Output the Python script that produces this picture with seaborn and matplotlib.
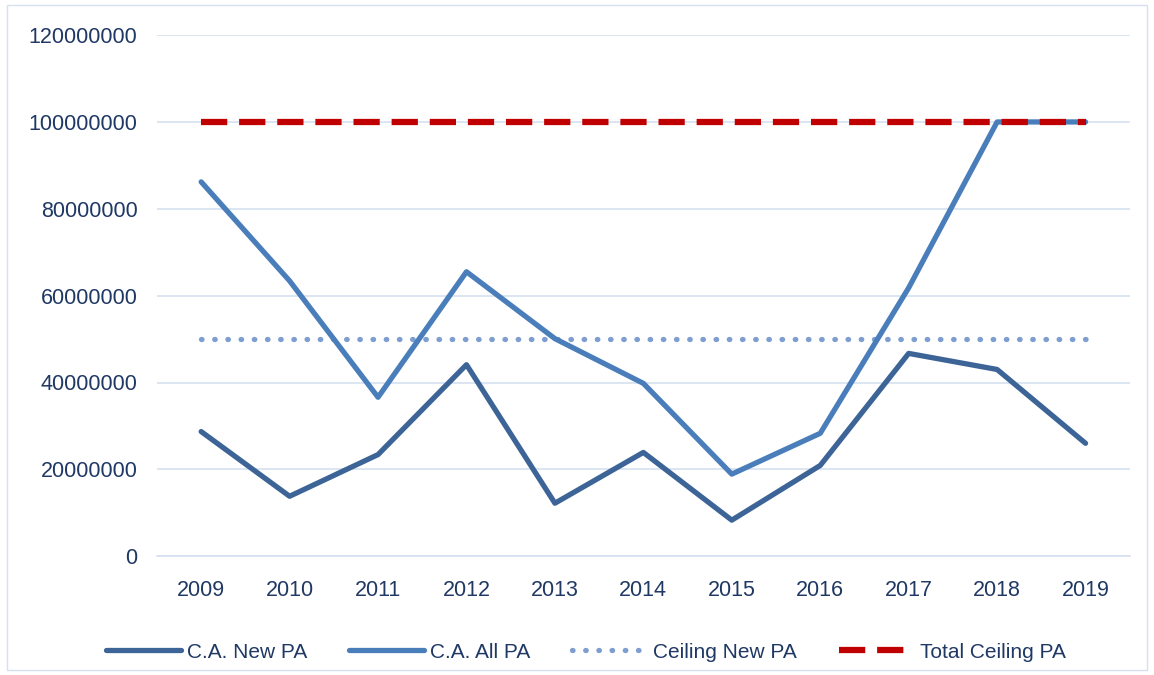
import numpy as np
import pandas as pd
import matplotlib
matplotlib.use("Agg")
import matplotlib.pyplot as plt
import seaborn as sns
from matplotlib.ticker import FuncFormatter, MultipleLocator

# data
years = [2009, 2010, 2011, 2012, 2013, 2014, 2015, 2016, 2017, 2018, 2019]
ca_new_pa = [28.7e6, 13.8e6, 23.4e6, 44.1e6, 12.2e6, 23.9e6, 8.3e6, 20.9e6, 46.7e6, 43.0e6, 26.0e6]
ca_all_pa = [86.2e6, 63.4e6, 36.6e6, 65.5e6, 50.1e6, 39.8e6, 18.9e6, 28.3e6, 61.8e6, 100.0e6, 100.0e6]
ceiling_new_pa = [50e6] * 11
total_ceiling_pa = [100e6] * 11

df = pd.DataFrame({
    "Year": years,
    "C.A. New PA": ca_new_pa,
    "C.A. All PA": ca_all_pa,
    "Ceiling New PA": ceiling_new_pa,
    "Total Ceiling PA": total_ceiling_pa,
})

sns.set_style("white")
plt.rcParams["font.family"] = ["Liberation Sans", "DejaVu Sans"]

text_col = "#1F3864"
grid_col = "#D6E0F0"

fig = plt.figure(figsize=(11.54, 6.75), dpi=100)
ax = fig.add_axes([0.136, 0.176, 0.843, 0.772])

sns.lineplot(data=df, x="Year", y="C.A. New PA", ax=ax, color="#3D6497",
             linewidth=3.8, label="C.A. New PA", zorder=3)
sns.lineplot(data=df, x="Year", y="C.A. All PA", ax=ax, color="#4A7EBB",
             linewidth=3.8, label="C.A. All PA", zorder=3)
sns.lineplot(data=df, x="Year", y="Ceiling New PA", ax=ax, color="#7F9ED0",
             linewidth=3.8, linestyle=(0, (0.1, 2.4)), dash_capstyle="round",
             label="Ceiling New PA", zorder=2)
sns.lineplot(data=df, x="Year", y="Total Ceiling PA", ax=ax, color="#C00000",
             linewidth=4.5, linestyle=(0, (4.2, 1.9)), label="Total Ceiling PA", zorder=4)

ax.set_xlim(2008.5, 2019.5)
ax.set_ylim(0, 120e6)
ax.yaxis.set_major_locator(MultipleLocator(20e6))
ax.yaxis.set_major_formatter(FuncFormatter(lambda v, p: f"{int(round(v))}"))
ax.set_xticks(years)
ax.set_xticks(np.arange(2008.5, 2020, 1), minor=True)
ax.tick_params(axis="x", which="major", length=0, pad=17, labelsize=15.5, labelcolor=text_col)
ax.tick_params(axis="x", which="minor", length=8, width=1, color=grid_col, direction="out")
ax.tick_params(axis="y", length=0, pad=14, labelsize=15.5, labelcolor=text_col)

ax.grid(axis="y", color=grid_col, linewidth=1.2)
for s in ["top", "right", "left"]:
    ax.spines[s].set_visible(False)
ax.spines["bottom"].set_color(grid_col)
ax.spines["bottom"].set_linewidth(1.2)
ax.set_xlabel("")
ax.set_ylabel("")

ax.legend(loc="upper center", bbox_to_anchor=(0.441, -0.13), ncol=4, frameon=False,
          fontsize=15, labelcolor=text_col, handlelength=3.6, handletextpad=0.3,
          columnspacing=2.0)

# thin outer border like the source
fig.patches.append(plt.Rectangle((0.006, 0.008), 0.988, 0.985, transform=fig.transFigure,
                                 fill=False, edgecolor="#D6E0F0", linewidth=1))

plt.savefig("out.png", dpi=100)
